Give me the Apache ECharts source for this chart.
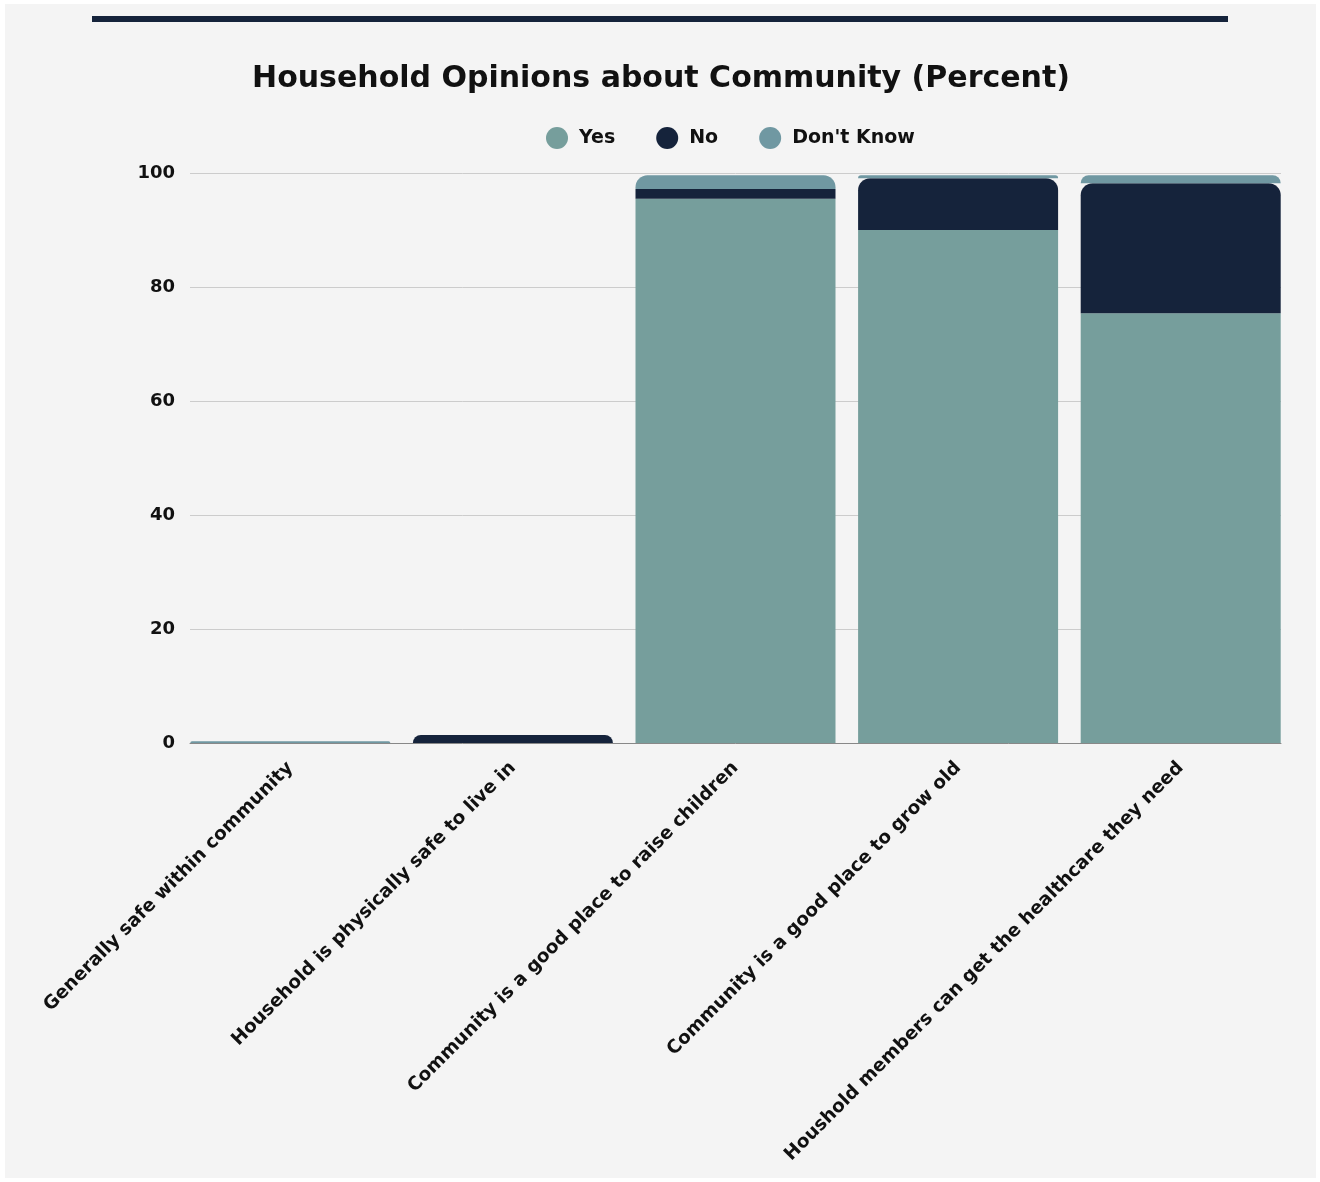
<!DOCTYPE html>
<html>
<head>
<meta charset="utf-8">
<script src="https://cdn.jsdelivr.net/npm/echarts@6/dist/echarts.min.js"></script>
<style>
  html, body { margin: 0; padding: 0; background: #ffffff; }
  #chart { width: 1320px; height: 1182px; }
</style>
</head>
<body>
<div id="chart"></div>
<script>
// Survey responses per statement, in percent
const categories = [
  'Generally safe within community',
  'Household is physically safe to live in',
  'Community is a good place to raise children',
  'Community is a good place to grow old',
  'Houshold members can get the healthcare they need'
];
const yesValues = [0, 0, 95.5, 90.0, 75.4];
const noValues = [0, 1.4, 1.7, 9.1, 22.8];
const dontKnowValues = [0.3, 0, 2.4, 0.5, 1.4];
const yTicks = [0, 20, 40, 60, 80, 100];

const seriesNames = ['Yes', 'No', "Don't Know"];
const seriesColors = ['#769e9c', '#15233b', '#7098a2'];
const seriesValues = [yesValues, noValues, dontKnowValues];

const FONT = '"DejaVu Sans", sans-serif';
const RADIUS_PX = 12;
const PX_PER_UNIT = 570 / 100;

// Round the top of each stack: the topmost segment, plus the one below
// it when the top segment is too thin to carry the whole curve.
function roundedFlags() {
  const flags = seriesValues.map(() => categories.map(() => false));
  categories.forEach((_, c) => {
    let remaining = RADIUS_PX / PX_PER_UNIT;
    for (let s = seriesValues.length - 1; s >= 0 && remaining > 0; s--) {
      const v = seriesValues[s][c];
      if (v > 0) {
        flags[s][c] = true;
        remaining -= v;
      }
    }
  });
  return flags;
}
const flags = roundedFlags();

const series = seriesNames.map((name, s) => ({
  name: name,
  type: 'bar',
  stack: 'total',
  xAxisIndex: 0,
  yAxisIndex: 0,
  barWidth: 200,
  itemStyle: { color: seriesColors[s] },
  data: seriesValues[s].map((v, c) => ({
    value: v,
    itemStyle: flags[s][c]
      ? { borderRadius: [RADIUS_PX, RADIUS_PX, 0, 0] }
      : { borderRadius: 0 }
  }))
}));

const chart = echarts.init(document.getElementById('chart'), null, { renderer: 'canvas' });
chart.setOption({
  backgroundColor: '#ffffff',
  animation: false,
  graphic: [
    { type: 'rect', z: -10, shape: { x: 5, y: 4, width: 1311, height: 1174 }, style: { fill: '#f4f4f4' } },
    { type: 'rect', shape: { x: 92, y: 16, width: 1136, height: 6 }, style: { fill: '#15233b' } }
  ],
  title: {
    text: 'Household Opinions about Community (Percent)',
    left: 656,
    textAlign: 'center',
    top: 59,
    textStyle: { fontFamily: FONT, fontWeight: 'bold', fontSize: 30, color: '#111111' }
  },
  legend: {
    data: seriesNames,
    left: 541,
    top: 122,
    icon: 'circle',
    itemWidth: 34,
    itemHeight: 22,
    itemGap: 41,
    textStyle: { fontFamily: FONT, fontWeight: 'bold', fontSize: 19, color: '#111111' }
  },
  grid: [
    { left: 179, right: 28, top: 173, bottom: 439 },
    { left: 190, right: 39, top: 173, bottom: 439 }
  ],
  xAxis: [
    {
      type: 'category',
      gridIndex: 0,
      data: categories,
      axisLine: { show: false },
      axisTick: { show: false },
      axisLabel: {
        rotate: 45,
        margin: 22,
        interval: 0,
        fontFamily: FONT,
        fontWeight: 'bold',
        fontSize: 18.5,
        color: '#111111'
      }
    },
    {
      type: 'value',
      gridIndex: 1,
      min: 0,
      max: 1,
      axisLine: { show: true, lineStyle: { color: '#888888', width: 1 } },
      axisTick: { show: false },
      axisLabel: { show: false },
      splitLine: { show: false }
    }
  ],
  yAxis: [
    { type: 'value', gridIndex: 0, min: 0, max: 100, show: false },
    {
      type: 'value',
      gridIndex: 1,
      min: 0,
      max: 100,
      interval: 20,
      axisLine: { show: false },
      axisTick: { show: false },
      axisLabel: {
        margin: 15,
        fontFamily: FONT,
        fontWeight: 'bold',
        fontSize: 18,
        color: '#111111',
        formatter: v => (yTicks.includes(v) ? String(v) : '')
      },
      splitLine: { show: true, lineStyle: { color: '#cccccc', width: 1 } }
    }
  ],
  series: series
});
</script>
</body>
</html>
